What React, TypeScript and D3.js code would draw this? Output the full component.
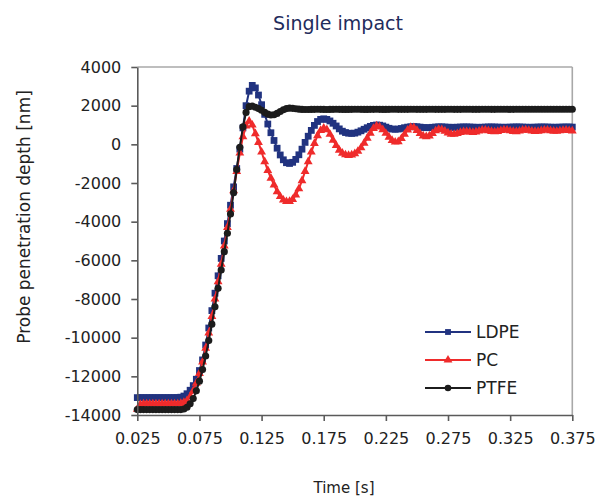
import * as d3 from 'd3'
import { useEffect, useRef } from 'react'

// sampling: one point every 2.5 ms from 0.025 s
const T0 = 0.025
const STEP = 0.0025

const xTicks = [0.025, 0.075, 0.125, 0.175, 0.225, 0.275, 0.325, 0.375]
const yTicks = [-14000, -12000, -10000, -8000, -6000, -4000, -2000, 0, 2000, 4000]

const ldpe = [
  -13100, -13100, -13100, -13100, -13100, -13100, -13100, -13100, -13100, -13100,
  -13100, -13100, -13100, -13095, -13080, -13020, -12900, -12720, -12480, -12150,
  -11700, -11150, -10380, -9500, -8600, -7700, -6800, -5900, -5000, -4100,
  -3150, -2200, -1250, -250, 850, 2000, 2750, 3050, 2920, 2550,
  2050, 1550, 1050, 600, 200, -200, -550, -800, -950, -990,
  -930, -780, -540, -250, 100, 420, 720, 980, 1180, 1290,
  1320, 1290, 1210, 1090, 950, 800, 680, 610, 575, 565,
  580, 630, 700, 780, 860, 930, 980, 1000, 990, 950,
  890, 830, 790, 780, 790, 820, 860, 890, 910, 920,
  910, 890, 870, 860, 865, 880, 895, 905, 905, 895,
  885, 880, 880, 885, 895, 900, 900, 895, 888, 882,
  880, 884, 892, 898, 900, 896, 890, 885, 882, 884,
  890, 896, 900, 898, 892, 886, 882, 883, 888, 894,
  898, 898, 893, 887, 883, 884, 889, 895, 898, 896,
  891,
]

const pc = [
  -13700, -13450, -13420, -13420, -13420, -13420, -13420, -13420, -13420, -13420,
  -13420, -13420, -13420, -13420, -13400, -13350, -13250, -13050, -12750, -12350,
  -11850, -11250, -10550, -9750, -8900, -8000, -7100, -6200, -5250, -4300,
  -3350, -2400, -1400, -450, 400, 950, 1200, 1000, 550, 100,
  -400, -900, -1350, -1750, -2100, -2450, -2700, -2880, -2960, -2950,
  -2850, -2620, -2300, -1880, -1400, -900, -400, 50, 450, 720,
  840, 760, 520, 220, -60, -300, -460, -540, -570, -550,
  -480, -360, -180, 60, 320, 580, 820, 950, 900, 760,
  570, 370, 200, 120, 140, 300, 520, 740, 880, 860,
  720, 560, 440, 400, 440, 560, 700, 780, 760, 680,
  590, 530, 520, 560, 620, 660, 660, 640, 620, 640,
  690, 730, 740, 710, 670, 650, 670, 715, 745, 740,
  700, 665, 660, 690, 730, 745, 725, 690, 668, 675,
  710, 740, 738, 708, 680, 676, 700, 728, 735, 715,
  695,
]

const ptfe = [
  -13720, -13720, -13720, -13720, -13720, -13720, -13720, -13720, -13720, -13720,
  -13720, -13720, -13720, -13720, -13720, -13690, -13600, -13420, -13150, -12750,
  -12250, -11650, -10950, -10150, -9300, -8400, -7450, -6500, -5550, -4600,
  -3600, -2500, -1300, -150, 900, 1650, 1950, 1980, 1920, 1850,
  1760, 1650, 1560, 1520, 1530, 1600, 1700, 1790, 1850, 1870,
  1860, 1840, 1820, 1805, 1800, 1800, 1805, 1810, 1812, 1810,
  1806, 1804, 1806, 1810, 1812, 1811, 1808, 1806, 1807, 1810,
  1812, 1812, 1809, 1807, 1807, 1809, 1811, 1812, 1810, 1808,
  1808, 1810, 1812, 1812, 1810, 1809, 1809, 1810, 1812, 1812,
  1811, 1810, 1810, 1811, 1812, 1812, 1811, 1810, 1810, 1811,
  1812, 1812, 1811, 1811, 1811, 1812, 1812, 1812, 1811, 1811,
  1811, 1812, 1812, 1812, 1811, 1811, 1812, 1812, 1812, 1812,
  1811, 1811, 1812, 1812, 1812, 1812, 1812, 1812, 1812, 1812,
  1812, 1812, 1812, 1812, 1812, 1812, 1812, 1812, 1812, 1812,
  1812,
]

const series = [
  { name: 'LDPE', values: ldpe, color: '#213380', symbol: d3.symbolSquare, size: 46 },
  { name: 'PC', values: pc, color: '#ef2b2b', symbol: d3.symbolTriangle, size: 34 },
  { name: 'PTFE', values: ptfe, color: '#1c1c1c', symbol: d3.symbolCircle, size: 40 },
]

const W = 609
const H = 499
const FONT = '"DejaVu Sans", sans-serif'

export default function App() {
  const xAxisRef = useRef<SVGGElement>(null)
  const yAxisRef = useRef<SVGGElement>(null)

  const x = d3.scaleLinear().domain([0.025, 0.375]).range([137.3, 572.3])
  const y = d3.scaleLinear().domain([-14000, 4000]).range([415, 67])

  useEffect(() => {
    const gx = d3.select(xAxisRef.current)
    gx.call(
      d3.axisBottom(x).tickValues(xTicks).tickSize(6).tickSizeOuter(0).tickPadding(12)
        .tickFormat(d3.format('.3f') as any)
    )
    gx.selectAll('path, line').attr('stroke', '#5a5a5a').attr('stroke-width', 1.6)
    gx.selectAll('text').attr('font-size', 16).attr('font-family', FONT).attr('fill', '#222')

    const gy = d3.select(yAxisRef.current)
    gy.call(
      d3.axisLeft(y).tickValues(yTicks).tickSize(6).tickSizeOuter(0).tickPadding(10)
        .tickFormat((d: any) => String(d))
    )
    gy.selectAll('path, line').attr('stroke', '#5a5a5a').attr('stroke-width', 1.6)
    gy.selectAll('text').attr('font-size', 16).attr('font-family', FONT).attr('fill', '#222')
  }, [])

  const line = d3.line<number>()
    .x((_, i) => x(T0 + i * STEP))
    .y(d => y(d))

  const legendY = [332, 360, 388]

  return (
    <svg width={W} height={H} style={{ position: 'absolute', left: 0, top: 0, background: '#fff' }}>
      <text x={338} y={30} textAnchor="middle" fontSize={19} fontFamily={FONT} fill="#1f2c5c">
        Single impact
      </text>

      {/* frame: top and right */}
      <line x1={137.3} x2={572.3} y1={67} y2={67} stroke="#a8a8a8" strokeWidth={1.6} />
      <line x1={572.3} x2={572.3} y1={67} y2={415} stroke="#a8a8a8" strokeWidth={1.6} />

      {series.map(s => (
        <g key={s.name}>
          <path d={line(s.values) ?? ''} fill="none" stroke={s.color} strokeWidth={2} />
          {s.values.map((v, i) => (
            <path
              key={i}
              d={d3.symbol(s.symbol, s.size)() ?? ''}
              transform={`translate(${x(T0 + i * STEP)},${y(v)})`}
              fill={s.color}
            />
          ))}
        </g>
      ))}

      <g ref={xAxisRef} transform="translate(0,415)" />
      <g ref={yAxisRef} transform="translate(137.3,0)" />

      <text x={344} y={493} textAnchor="middle" fontSize={15} fontFamily={FONT} fill="#222">
        Time [s]
      </text>
      <text transform="translate(30,217) rotate(-90)" textAnchor="middle" fontSize={17} fontFamily={FONT} fill="#222">
        Probe penetration depth [nm]
      </text>

      {series.map((s, k) => (
        <g key={'lg' + s.name}>
          <line x1={425} x2={471} y1={legendY[k]} y2={legendY[k]} stroke={s.color} strokeWidth={2} />
          <path d={d3.symbol(s.symbol, 34)() ?? ''} transform={`translate(448,${legendY[k]})`} fill={s.color} />
          <text x={476} y={legendY[k]} dy="0.36em" fontSize={17} fontFamily={FONT} fill="#222">
            {s.name}
          </text>
        </g>
      ))}
    </svg>
  )
}
